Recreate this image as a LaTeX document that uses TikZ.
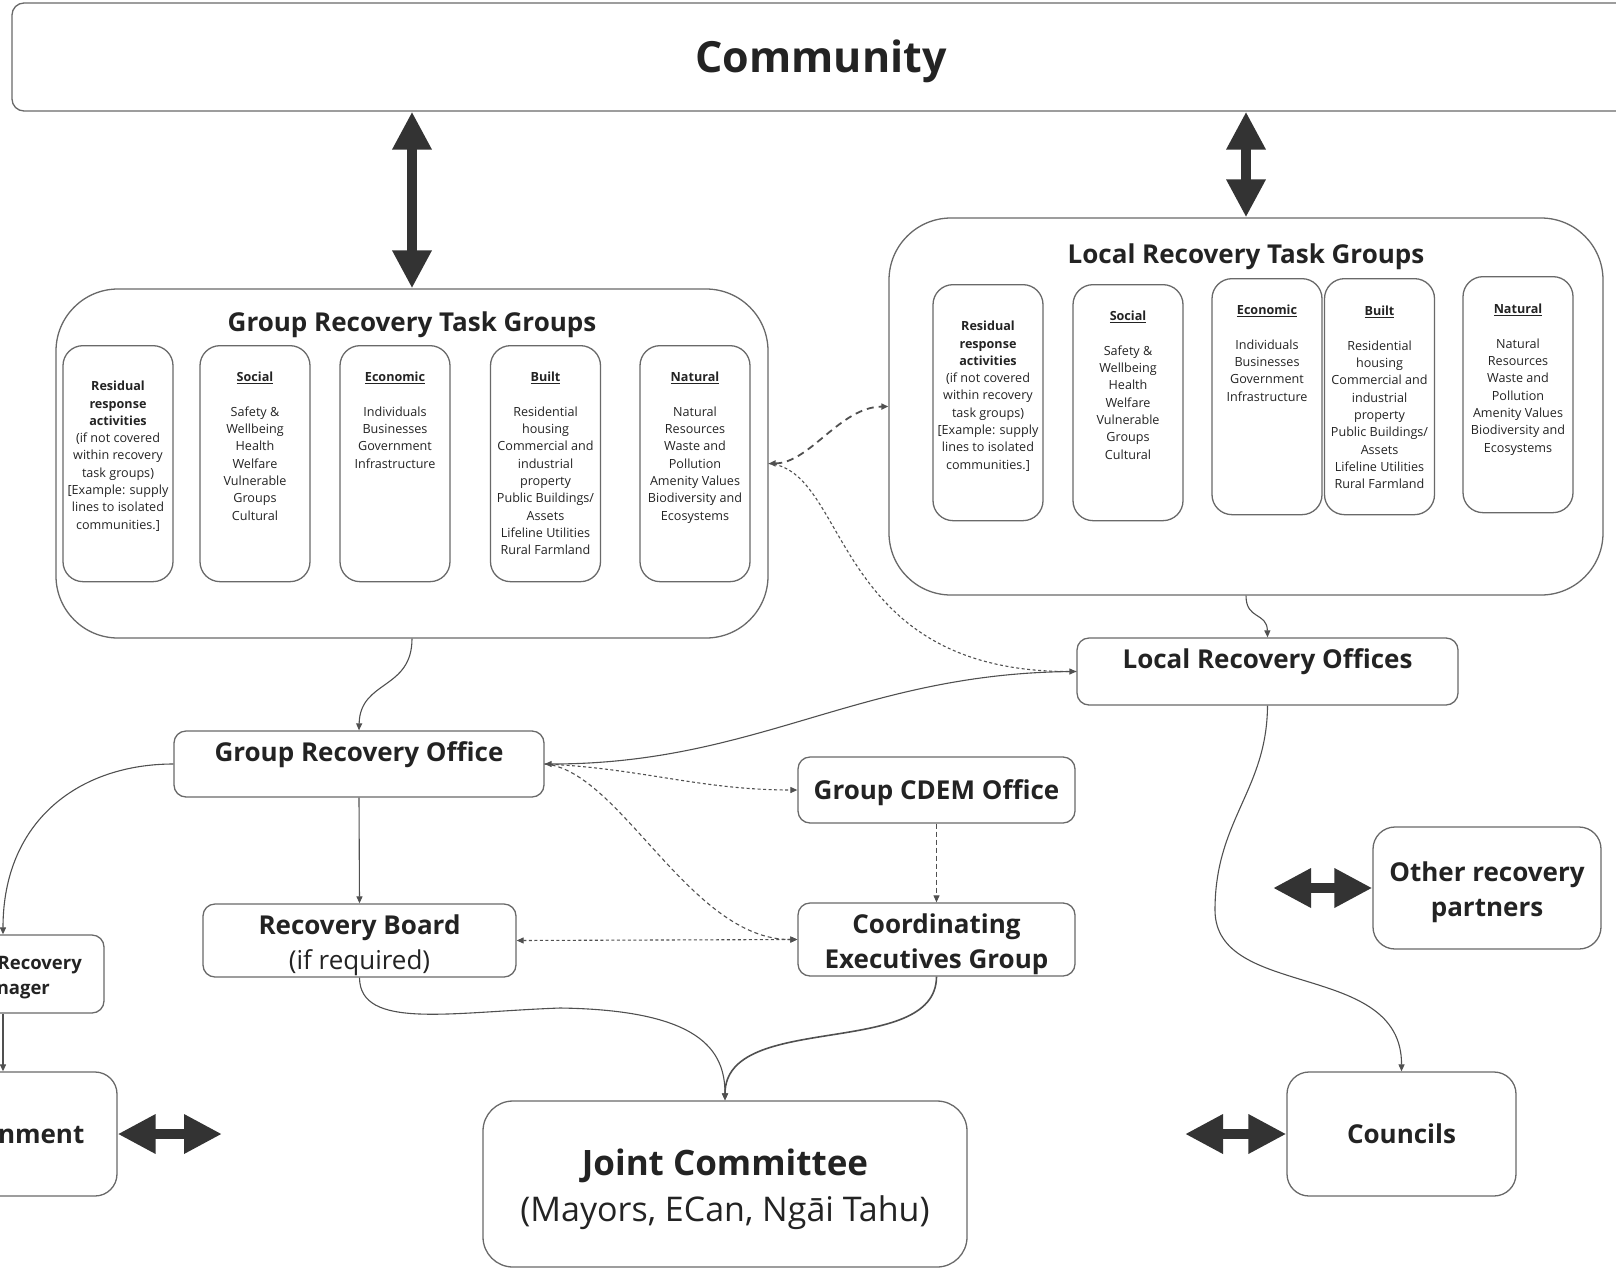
\documentclass[tikz,border=0pt]{standalone}
\usepackage{fontspec}
\setmainfont{Open Sans}
\usetikzlibrary{arrows.meta, positioning}

\definecolor{boxgray}{RGB}{105,105,105}
\definecolor{linegray}{RGB}{80,80,80}
\definecolor{arrowgray}{RGB}{51,51,51}
\definecolor{textgray}{RGB}{35,35,35}

% struts so that labels sit on their cap height
\newcommand{\capstrut}{\rule{0pt}{1em}}
\newcommand{\basestrut}{\rule[-0.29em]{0pt}{0.29em}}

\tikzstyle{panel} = [rectangle, rounded corners=62pt, draw=boxgray, line width=1.3pt]
\tikzstyle{office} = [rectangle, rounded corners=12pt, draw=boxgray, line width=1.3pt, align=center, text=textgray, font=\fontsize{26}{35}\selectfont\bfseries, execute at begin node=\capstrut, execute at end node=\basestrut]
\tikzstyle{topline} = [text height=20pt, text depth=26pt, inner ysep=10pt]
\tikzstyle{twoline} = [text height=65pt, text depth=7.5pt, inner ysep=0pt]
\tikzstyle{taskbox} = [rectangle, rounded corners=20pt, draw=boxgray, line width=1.3pt, minimum width=110pt, minimum height=236pt, anchor=north]
\tikzstyle{tasktext} = [align=center, inner sep=0pt, text=textgray, font=\fontsize{12.6}{17.3}\selectfont]
\tikzstyle{title} = [inner sep=0pt, text=textgray, font=\fontsize{26}{35}\selectfont\bfseries]
\tikzstyle{arrow} = [line width=1.1pt, draw=linegray, ->, >={Triangle[length=7pt,width=6pt]}]
\tikzstyle{bigarrow} = [line width=10pt, draw=arrowgray, {Triangle[length=38pt,width=37pt]}-{Triangle[length=38pt,width=37pt]}]

\begin{document}
\begin{tikzpicture}[x=1pt, y=1pt]
    \useasboundingbox (0,0) rectangle (1616,-1269);

    \node (comm) [office, minimum width=1618pt, minimum height=108pt, font=\fontsize{43}{50}\selectfont\bfseries] at (821,-57) {Community};

    % task group panels
    \node (grtg) [panel, minimum width=712pt, minimum height=349pt] at (412,-463.5) {};
    \node (grtg-title) [title, below=23pt of grtg.north] {Group Recovery Task Groups};
    \node (lrtg) [panel, minimum width=714pt, minimum height=377pt] at (1246,-406.5) {};
    \node (lrtg-title) [title, below=26pt of lrtg.north] {Local Recovery Task Groups};

    % group task groups
    \node (g-res) [taskbox] at (118,-345) {};
    \node (g-res-txt) [tasktext, below=36pt of g-res.north] {\textbf{Residual}\\ \textbf{response}\\ \textbf{activities}\\ (if not covered\\ within recovery\\ task groups)\\ {[Example: supply}\\ lines to isolated\\ communities.]};
    \node (g-soc) [taskbox] at (255,-345) {};
    \node (g-soc-txt) [tasktext, below=27pt of g-soc.north] {\underline{\textbf{Social}}\\[17.3pt] Safety \&\\ Wellbeing\\ Health\\ Welfare\\ Vulnerable\\ Groups\\ Cultural};
    \node (g-eco) [taskbox] at (395,-345) {};
    \node (g-eco-txt) [tasktext, below=27pt of g-eco.north] {\underline{\textbf{Economic}}\\[17.3pt] Individuals\\ Businesses\\ Government\\ Infrastructure};
    \node (g-blt) [taskbox] at (545.5,-345) {};
    \node (g-blt-txt) [tasktext, below=27pt of g-blt.north] {\underline{\textbf{Built}}\\[17.3pt] Residential\\ housing\\ Commercial and\\ industrial\\ property\\ Public Buildings/\\ Assets\\ Lifeline Utilities\\ Rural Farmland};
    \node (g-nat) [taskbox] at (695,-345) {};
    \node (g-nat-txt) [tasktext, below=27pt of g-nat.north] {\underline{\textbf{Natural}}\\[17.3pt] Natural\\ Resources\\ Waste and\\ Pollution\\ Amenity Values\\ Biodiversity and\\ Ecosystems};

    % local task groups
    \node (l-res) [taskbox] at (988,-284) {};
    \node (l-res-txt) [tasktext, below=37pt of l-res.north] {\textbf{Residual}\\ \textbf{response}\\ \textbf{activities}\\ (if not covered\\ within recovery\\ task groups)\\ {[Example: supply}\\ lines to isolated\\ communities.]};
    \node (l-soc) [taskbox] at (1128,-284) {};
    \node (l-soc-txt) [tasktext, below=27pt of l-soc.north] {\underline{\textbf{Social}}\\[17.3pt] Safety \&\\ Wellbeing\\ Health\\ Welfare\\ Vulnerable\\ Groups\\ Cultural};
    \node (l-eco) [taskbox] at (1267,-278) {};
    \node (l-eco-txt) [tasktext, below=27pt of l-eco.north] {\underline{\textbf{Economic}}\\[17.3pt] Individuals\\ Businesses\\ Government\\ Infrastructure};
    \node (l-blt) [taskbox] at (1379.5,-278) {};
    \node (l-blt-txt) [tasktext, below=28pt of l-blt.north] {\underline{\textbf{Built}}\\[17.3pt] Residential\\ housing\\ Commercial and\\ industrial\\ property\\ Public Buildings/\\ Assets\\ Lifeline Utilities\\ Rural Farmland};
    \node (l-nat) [taskbox] at (1518,-276) {};
    \node (l-nat-txt) [tasktext, below=28pt of l-nat.north] {\underline{\textbf{Natural}}\\[17.3pt] Natural\\ Resources\\ Waste and\\ Pollution\\ Amenity Values\\ Biodiversity and\\ Ecosystems};

    % offices
    \node (gro) [office, topline, minimum width=370pt, minimum height=66pt] at (359,-764) {Group Recovery Office};
    \node (lro) [office, topline, minimum width=381pt, minimum height=67pt] at (1267.5,-671.5) {Local Recovery Offices};
    \node (cdem) [office, minimum width=277pt, minimum height=66pt] at (936.5,-790) {Group CDEM Office};
    \node (board) [office, twoline, minimum width=313pt, minimum height=73pt] at (359.5,-940.5) {Recovery Board\\{\mdseries (if required)}};
    \node (ceg) [office, twoline, minimum width=277pt, minimum height=73pt] at (936.5,-939.5) {Coordinating\\Executives Group};
    \node (jc) [office, rounded corners=30pt, minimum width=484pt, minimum height=166pt, font=\fontsize{34}{46}\selectfont, text height=85pt, text depth=10pt] at (725,-1184) {{\fontsize{35}{46}\selectfont\bfseries Joint Committee}\\(Mayors, ECan, Ngāi Tahu)};
    \node (councils) [office, rounded corners=22pt, minimum width=229pt, minimum height=124pt] at (1401.5,-1134) {Councils};
    \node (partners) [office, twoline, rounded corners=22pt, minimum width=228pt, minimum height=122pt] at (1487,-888) {Other recovery\\partners};
    \node (manager) [office, minimum width=190pt, minimum height=78pt, font=\fontsize{18.5}{25}\selectfont\bfseries, text height=45.5pt, text depth=5.4pt] at (9,-974) {Group Recovery\\Manager};
    \node (gov) [office, rounded corners=22pt, minimum width=228pt, minimum height=124pt] at (3,-1134) {Government};

    % block arrows
    \draw[bigarrow] (grtg.north) -- (grtg.north |- comm.south);
    \draw[bigarrow] (lrtg.north) -- (lrtg.north |- comm.south);
    \coordinate (partners-tip) at (1273,-888);
    \draw[bigarrow] (partners.west) -- (partners-tip);
    \coordinate (councils-tip) at (1185,-1134);
    \draw[bigarrow] (councils.west) -- (councils-tip);
    \coordinate (gov-tip) at (222,-1134);
    \draw[bigarrow] (gov.east) -- (gov-tip);

    % connectors
    \draw[arrow, <->, line width=1.8pt, dash pattern=on 7pt off 5pt] (grtg.east) .. controls (810,-463) and (840,-407) .. (lrtg.west);
    \draw[arrow, dash pattern=on 3pt off 2.5pt] (grtg.east) .. controls (850,-470) and (830,-672) .. (lro.west);
    \draw[arrow] (grtg.south) .. controls (412,-690) and (360,-680) .. (gro.north);
    \draw[arrow] (lrtg.south) .. controls (1246,-620) and (1267,-612) .. (lro.north);
    \draw[arrow, <-] (gro.east) .. controls (760,-764) and (860,-672) .. (lro.west);
    \draw[arrow] (gro.west) .. controls (80,-764) and (3,-820) .. ([xshift=-6pt]manager.north);
    \draw[arrow] ([xshift=-6pt]manager.south) -- (gov.north);
    \draw[arrow] (gro.south) -- (board.north);
    \draw[arrow, dash pattern=on 3pt off 2.5pt] (gro.east) .. controls (640,-768) and (700,-790) .. (cdem.west);
    \draw[arrow, dash pattern=on 4pt off 3pt] (gro.east) .. controls (620,-770) and (690,-940) .. (ceg.west);
    \draw[arrow, dash pattern=on 5pt off 3pt] (cdem.south) -- (ceg.north);
    \draw[arrow, <->, dash pattern=on 3pt off 2.5pt] (board.east) -- (ceg.west);
    \draw[arrow] (board.south) .. controls (360,-1030) and (450,-1012) .. (560,-1008) .. controls (700,-1010) and (725,-1050) .. (jc.north);
    \draw[arrow, line width=1.6pt] (ceg.south) .. controls (936,-1060) and (725,-1010) .. (jc.north);
    \draw[arrow] (lro.south) .. controls (1267,-790) and (1215,-820) .. (1215,-910) .. controls (1215,-1000) and (1402,-960) .. (councils.north);
\end{tikzpicture}
\end{document}
